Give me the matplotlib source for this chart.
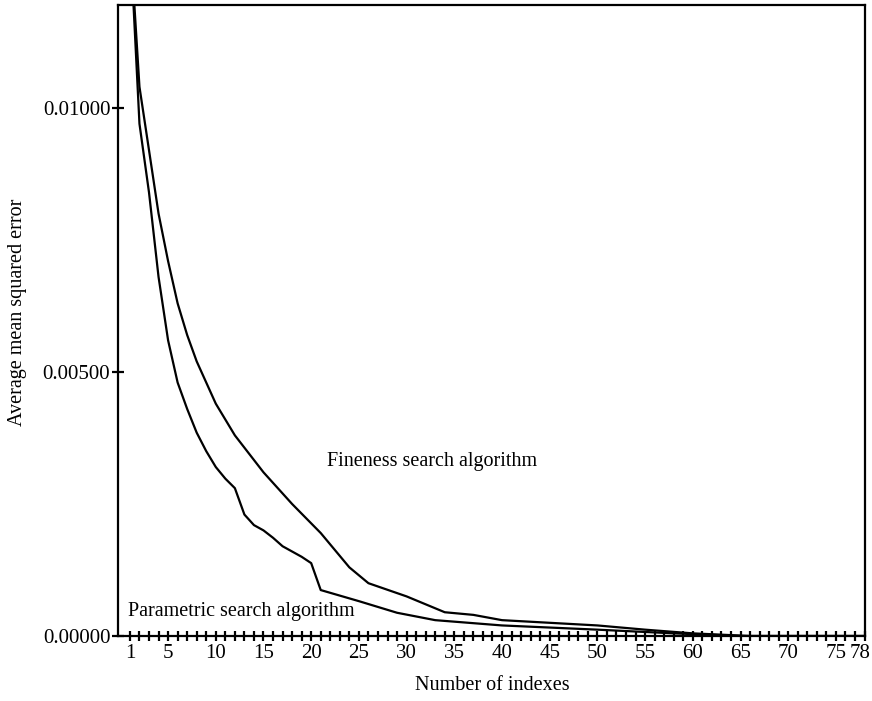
import numpy as np
import matplotlib
matplotlib.use("Agg")
import matplotlib.pyplot as plt
import matplotlib.transforms as mtransforms

# values (index, average mean squared error)
param_idx = [1, 2, 3, 4, 5, 6, 7, 8, 9, 10, 11, 12, 13, 14, 15, 16, 17, 18, 19, 20,
             21, 25, 29, 33, 40, 50, 58, 65, 78]
param_mse = [0.0133, 0.0097, 0.0084, 0.0068, 0.0056, 0.0048, 0.0043, 0.00385, 0.0035,
             0.0032, 0.00298, 0.0028, 0.0023, 0.0021, 0.0020, 0.00186, 0.0017, 0.0016,
             0.0015, 0.00138, 0.00087, 0.00066, 0.00044, 0.0003, 0.0002, 0.00012,
             0.00005, 0.0, 0.0]

fine_idx = [1, 2, 3, 4, 5, 6, 7, 8, 9, 10, 12, 15, 18, 21, 24, 26, 30, 34, 37, 40,
            50, 55, 60, 66, 78]
fine_mse = [0.0133, 0.0104, 0.0092, 0.0080, 0.0071, 0.0063, 0.0057, 0.0052, 0.0048,
            0.0044, 0.0038, 0.0031, 0.0025, 0.00195, 0.0013, 0.001, 0.00075, 0.00045,
            0.0004, 0.0003, 0.0002, 0.00012, 0.00005, 0.0, 0.0]

x_ticks = list(range(1, 79))
x_labels = [1, 5, 10, 15, 20, 25, 30, 35, 40, 45, 50, 55, 60, 65, 70, 75, 78]
y_ticks = [0.0, 0.005, 0.01]
y_labels = ["0.00000", "0.00500", "0.01000"]

plt.rcParams['font.family'] = ['Liberation Serif', 'DejaVu Serif']

fig = plt.figure(figsize=(8.72, 7.01), dpi=100)
ax = fig.add_axes([118/872, 1 - 636/701, (865-118)/872, (636-5)/701])

ax.plot(fine_idx, fine_mse, color='k', lw=1.6)
ax.plot(param_idx, param_mse, color='k', lw=1.6)

ax.set_xlim(-0.25, 78.05)
ax.set_ylim(0, 0.01195)

ax.set_xticks(x_ticks)
ax.set_xticklabels([str(t) if t in x_labels else "" for t in x_ticks])
ax.set_yticks(y_ticks)
ax.set_yticklabels(y_labels)

ax.tick_params(axis='x', direction='inout', length=7, width=1.6, labelsize=15, pad=2)
ax.tick_params(axis='y', direction='inout', length=9, width=1.6, labelsize=15, pad=1)
for s in ax.spines.values():
    s.set_linewidth(1.6)

# nudge the last label ("78") so it stays inside the figure
last = ax.get_xticklabels()[-1]
last.set_transform(last.get_transform() +
                   mtransforms.ScaledTranslation(-4/100, 0, fig.dpi_scale_trans))

ax.text(21.7, 0.0033, "Fineness search algorithm", fontsize=14.5, va='center', ha='left')
ax.text(0.8, 0.00046, "Parametric search algorithm", fontsize=14.5, va='center', ha='left')

fig.text(492/872, 1 - 686/701, "Number of indexes", fontsize=14.5, ha='center', va='center')
fig.text(18/872, 1 - 312/701, "Average mean squared error", fontsize=14.5,
         ha='center', va='center', rotation=90)

fig.savefig("out.png", dpi=100)
